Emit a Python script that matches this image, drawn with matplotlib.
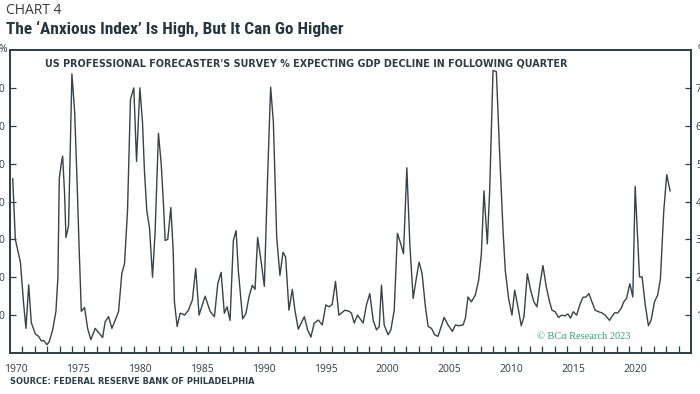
import matplotlib
matplotlib.use("Agg")
import matplotlib.pyplot as plt
from matplotlib import font_manager
import numpy as np

# survey share expecting decline, vertices (year, %)
years = [1970.22, 1970.43, 1970.84, 1971.10, 1971.29, 1971.51, 1971.72, 1972.05, 1972.31, 1972.53,
         1972.72, 1972.99, 1973.17, 1973.44, 1973.71, 1973.87, 1973.98, 1974.14, 1974.25, 1974.41,
         1974.52, 1974.73, 1974.87, 1975.00, 1975.22, 1975.41, 1975.59, 1975.76, 1976.02, 1976.27,
         1976.53, 1976.88, 1977.21, 1977.48, 1977.69, 1977.96, 1978.23, 1978.50, 1978.77, 1979.03,
         1979.25, 1979.49, 1979.73, 1980.00, 1980.22, 1980.49, 1980.70, 1980.86, 1981.05, 1981.27,
         1981.51, 1981.72, 1981.99, 1982.21, 1982.40, 1982.53, 1982.74, 1982.99, 1983.18, 1983.28,
         1983.50, 1983.74, 1983.95, 1984.09, 1984.41, 1984.73, 1985.00, 1985.27, 1985.76, 1986.16,
         1986.51, 1986.78, 1987.05, 1987.31, 1987.53, 1987.77, 1988.04, 1988.26, 1988.44, 1988.79,
         1989.06, 1989.30, 1989.57, 1989.79, 1990.00, 1990.27, 1990.54, 1990.81, 1991.05, 1991.27,
         1991.54, 1991.80, 1992.05, 1992.26, 1992.53, 1992.80, 1993.01, 1993.28, 1993.77, 1994.04,
         1994.30, 1994.57, 1994.90, 1995.22, 1995.51, 1995.76, 1996.02, 1996.29, 1996.56, 1997.05,
         1997.40, 1997.58, 1997.80, 1998.07, 1998.52, 1998.79, 1999.06, 1999.33, 1999.60, 1999.82,
         2000.00, 2000.22, 2000.54, 2000.76, 2001.03, 2001.29, 2001.56, 2001.78, 2002.05, 2002.29,
         2002.56, 2002.83, 2003.04, 2003.28, 2003.55, 2003.77, 2004.04, 2004.30, 2004.57, 2005.06,
         2005.38, 2005.73, 2005.97, 2006.24, 2006.59, 2006.78, 2006.99, 2007.26, 2007.58, 2007.85,
         2008.07, 2008.28, 2008.55, 2008.74, 2009.01, 2009.28, 2009.55, 2009.82, 2010.00, 2010.27,
         2010.54, 2010.76, 2011.02, 2011.29, 2011.51, 2011.78, 2012.05, 2012.31, 2012.56, 2012.77,
         2013.04, 2013.31, 2013.58, 2013.77, 2014.03, 2014.30, 2014.57, 2014.79, 2015.06, 2015.27,
         2015.49, 2015.76, 2016.02, 2016.27, 2016.53, 2016.75, 2017.00, 2017.26, 2017.53, 2017.80,
         2018.07, 2018.42, 2018.60, 2018.82, 2019.09, 2019.36, 2019.57, 2019.79, 2020.06, 2020.30,
         2020.49, 2020.70, 2020.84, 2021.05, 2021.29, 2021.56, 2021.78, 2022.05, 2022.31, 2022.53,
         2022.80, 2023.04, 2023.31]
values = [46, 30, 24, 13, 6.5, 18, 8, 5, 4.4, 3.2,
          3.3, 2.2, 3, 6, 11, 20, 46, 50, 52, 42,
          30.5, 33.6, 55, 73.7, 63.7, 46, 27, 11, 12, 6.5,
          3.5, 6.5, 5.2, 4.1, 8.3, 9.6, 6.5, 8.7, 11, 21,
          23.6, 37.5, 67, 70, 50.6, 70, 61, 48, 37.5, 33,
          20, 32, 58, 50, 39, 29.7, 30, 38.4, 27, 13.5,
          7, 10.5, 10.3, 10, 11.3, 14, 22.3, 10, 15, 11,
          9.6, 18.3, 21.3, 10.5, 12.2, 8.6, 29.7, 32.3, 21.8, 9,
          10.5, 14.8, 17.9, 16.8, 30.5, 24.4, 17.6, 47, 70.2, 61,
          30.5, 20.5, 26.6, 25.3, 11.3, 16.8, 11.3, 6.3, 9.6, 6.1,
          4.2, 7.9, 8.7, 7.4, 12.7, 12.2, 12.8, 18.9, 10, 11.3,
          11, 10.5, 7.9, 10, 7.9, 12.7, 15.7, 8.7, 6.1, 7,
          17.9, 7.4, 4.8, 6.1, 11.3, 31.6, 28.8, 26.2, 48.9, 28.8,
          14.4, 20, 24, 21, 12.2, 7, 6.5, 4.8, 4.4, 9.4,
          7.4, 5.7, 7.4, 7.2, 7.4, 9.2, 14.8, 13.5, 15.3, 19.2,
          26.2, 42.8, 28.8, 42.8, 74.6, 74.3, 52.4, 32.3, 21.8, 14.4,
          10, 16.6, 12.2, 7.2, 9.6, 20.9, 16.6, 13.5, 12.2, 17.5,
          23.1, 17.5, 13.5, 11.3, 10.9, 9.4, 10, 9.8, 10.3, 9.2,
          10.9, 10, 12.7, 14.7, 14.8, 15.7, 13.5, 11.3, 10.9, 10.6,
          10, 8.6, 9.6, 10.6, 10.6, 11.8, 13.5, 14.4, 18.3, 14.8,
          44, 29.7, 20.1, 20.1, 13.1, 7.2, 8.7, 13.5, 15.3, 19.6,
          37.5, 47.1, 42.8]

label_years = [1970, 1975, 1980, 1985, 1990, 1995, 2000, 2005, 2010, 2015, 2020]
y_ticks = [10, 20, 30, 40, 50, 60, 70]

navy = '#2c3d47'
plt.rcParams['font.family'] = ['Open Sans', 'DejaVu Sans']

# look for a narrow face for the headline
installed = {f.name for f in font_manager.fontManager.ttflist}
narrow = [n for n in ['Liberation Sans Narrow', 'Roboto Condensed', 'DejaVu Sans Condensed',
                      'Open Sans Condensed'] if n in installed]
title_family = narrow + ['Roboto', 'DejaVu Sans']

fig = plt.figure(figsize=(7.0, 3.94), dpi=100)
ax = fig.add_axes([10/700, 1 - 353/394, 681/700, 303/394])

ax.plot(years, values, color='#3b4146', linewidth=1.0)

ax.set_xlim(1970, 2025)
ax.set_ylim(0, 80)

ax.set_xticks([y + 0.5 for y in label_years])
ax.set_xticklabels([str(y) for y in label_years])
ax.set_xticks(np.arange(1971, 2025), minor=True)
ax.tick_params(axis='x', which='major', length=0, pad=8, labelsize=7.5, labelcolor=navy)
ax.tick_params(axis='x', which='minor', direction='in', length=5, width=0.9, color=navy)

ax.set_yticks(y_ticks)
ax.tick_params(axis='y', which='major', direction='in', length=4, width=0.9, color=navy,
               left=True, right=True, labelleft=True, labelright=True,
               labelsize=7.5, labelcolor=navy, pad=3.5)

for s in ax.spines.values():
    s.set_color(navy)
    s.set_linewidth(1.4)

sub = ax.text(0.052, 0.955, "US PROFESSIONAL FORECASTER'S SURVEY % EXPECTING GDP DECLINE IN FOLLOWING QUARTER",
              transform=ax.transAxes, fontsize=7, fontweight='bold', color=navy, va='center', ha='left',
              family=['DejaVu Sans'])
ax.text(0.774, 0.055, "© BCα Research 2023", transform=ax.transAxes, fontsize=7.5,
        color='#2e9e7c', family=['Liberation Serif', 'DejaVu Serif'], va='center', ha='left')

fig.text(6/700, 1 - 11/394, "CHART 4", fontsize=10, color='#3a3a3a', va='center', ha='left')
title = fig.text(6/700, 1 - 29/394, "The \u2018Anxious Index\u2019 Is High, But It Can Go Higher",
                 fontsize=11.5, fontweight='bold', color='#263640', va='center', ha='left',
                 family=title_family)
fig.text(-0.002, 1 - 50/394, "%", fontsize=7.5, color=navy, va='center', ha='left')
fig.text(697/700, 1 - 50/394, "%", fontsize=7.5, color=navy, va='center', ha='left')
src = fig.text(10/700, 1 - 381/394, "SOURCE: FEDERAL RESERVE BANK OF PHILADELPHIA", fontsize=6.5,
               fontweight='bold', color=navy, va='center', ha='left', family=['DejaVu Sans'])

# fit text widths to the widths measured on the reference
renderer = fig.canvas.get_renderer()
for t, target in [(title, 337), (sub, 522), (src, 247)]:
    w = t.get_window_extent(renderer).width
    t.set_fontsize(t.get_fontsize() * target / w)

fig.savefig('out.png', dpi=100, facecolor='white')
